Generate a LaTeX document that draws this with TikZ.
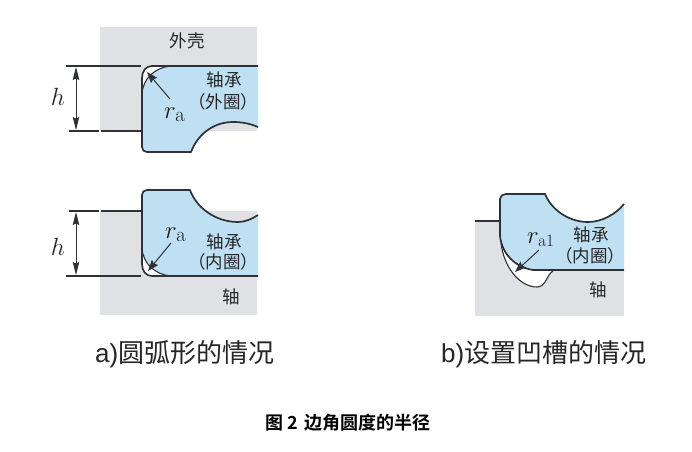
\documentclass[tikz,border=0pt]{standalone}
\usepackage[no-math]{fontspec}
\setmainfont{Liberation Sans}
\newfontfamily\cjk{Noto Sans CJK SC}
\newfontfamily\cjkb{Noto Sans CJK SC Bold}
\usetikzlibrary{arrows.meta}
\definecolor{brg}{HTML}{BEE0F2}
\definecolor{gry}{HTML}{E0E1E4}
\definecolor{ink}{HTML}{2E3136}
\tikzset{
  x=1pt,y=-1pt,
  outl/.style={draw=ink,line width=1.7pt,line join=round},
  thinln/.style={draw=ink,line width=1.1pt},
  dimline/.style={draw=ink,line width=1.2pt},
  dimarrow/.style={draw=ink,line width=1pt,{Stealth[length=13pt,width=6.5pt,inset=1.5pt]}-{Stealth[length=13pt,width=6.5pt,inset=1.5pt]}},
  leader/.style={draw=ink,line width=1pt,-{Stealth[length=11pt,width=8pt,inset=1.5pt]}},
  lbl/.style={font=\cjk\fontsize{17.5}{20}\selectfont,text=black!85,inner sep=0pt},
  sym/.style={font=\fontsize{28}{30}\selectfont,text=black!85,inner sep=0pt},
  rsym/.style={font=\fontsize{30}{32}\selectfont,text=black!90,inner sep=0pt,anchor=base west},
  captxt/.style={font=\fontsize{26}{29}\selectfont,text=black!85,inner sep=0pt,anchor=base west},
}
\begin{document}
\begin{tikzpicture}
\useasboundingbox (0,0) rectangle (692,451);
\fill[white] (0,0) rectangle (692,451);
% --- a) upper: housing
\fill[gry] (100,27) rectangle (257,131);
\fill[white] (142,92) -- (142,78) .. controls (142,71) and (146,66) .. (152,66) -- (170,66) -- cycle;
\fill[brg] (258,66) -- (170,66) .. controls (155,68) and (143,78) .. (142,94) -- (142,147)
  .. controls (142,150) and (144,152) .. (147,152) -- (191,152)
  .. controls (197,136) and (212,122) .. (233,122) .. controls (243,122) and (251,124) .. (258,127) -- cycle;
\draw[thinln] (170,66) .. controls (155,68) and (143,78) .. (142,94);
\draw[outl] (142,94) -- (142,147) .. controls (142,150) and (144,152) .. (147,152) -- (191,152)
  .. controls (197,136) and (212,122) .. (233,122) .. controls (243,122) and (251,124) .. (258,127);
\draw[outl] (142,96) -- (142,78) .. controls (142,71) and (146,66) .. (152,66) -- (258,66);
\coordinate (h1a) at (66,66); \coordinate (h1b) at (141,66);
\coordinate (h2a) at (69,131); \coordinate (h2b) at (99,131);
\coordinate (h2c) at (101,131); \coordinate (h2d) at (141,131);
\draw[dimline] (h1a) -- (h1b);
\draw[dimline] (h2a) -- (h2b);
\draw[dimline] (h2c) -- (h2d);
\coordinate (d1a) at (76,67); \coordinate (d1b) at (76,130);
\draw[dimarrow] (d1a) -- (d1b);
\node[sym] (h1) at (58,97) {$h$};
\node[rsym] (ra1) at (164,118) {$r_{\mathrm{a}}$};
\coordinate (t1) at (147,72); \coordinate (s1) at (170,99);
\draw[leader] (s1) -- (t1);
\node[lbl] (house) at (187,41) {外壳};
\node[lbl] (b1) at (224,80) {轴承};
\node[lbl] (b2) at (223,102) {（外圈）};
% --- a) lower: shaft
\fill[gry] (100,211) rectangle (257,315);
\fill[white] (142,250) -- (142,264) .. controls (142,271) and (146,276) .. (152,276) -- (170,276) -- cycle;
\fill[brg] (258,276) -- (170,276) .. controls (155,274) and (143,264) .. (142,248) -- (142,195)
  .. controls (142,192) and (144,190) .. (147,190) -- (190,190)
  .. controls (196,207) and (215,222) .. (238,222) .. controls (245,222) and (252,219) .. (258,215) -- cycle;
\draw[thinln] (170,276) .. controls (155,274) and (143,264) .. (142,248);
\draw[outl] (142,250) -- (142,195) .. controls (142,192) and (144,190) .. (147,190) -- (190,190)
  .. controls (196,207) and (215,222) .. (238,222) .. controls (245,222) and (252,219) .. (258,215);
\draw[outl] (142,248) -- (142,264) .. controls (142,271) and (146,276) .. (152,276) -- (258,276);
\coordinate (h3a) at (69,211); \coordinate (h3b) at (99,211);
\coordinate (h3c) at (101,211); \coordinate (h3d) at (141,211);
\coordinate (h4a) at (66,276); \coordinate (h4b) at (141,276);
\draw[dimline] (h3a) -- (h3b);
\draw[dimline] (h3c) -- (h3d);
\draw[dimline] (h4a) -- (h4b);
\coordinate (d2a) at (76,212); \coordinate (d2b) at (76,275);
\draw[dimarrow] (d2a) -- (d2b);
\node[sym] (h2) at (58,247) {$h$};
\node[rsym] (ra2) at (165,238) {$r_{\mathrm{a}}$};
\coordinate (t2) at (148,271); \coordinate (s2) at (171,243);
\draw[leader] (s2) -- (t2);
\node[lbl] (b3) at (224,242) {轴承};
\node[lbl] (b4) at (223,262) {（内圈）};
\node[lbl] (sh1) at (231,297) {轴};
% --- b) groove
\fill[gry] (475,221) rectangle (624,316);
\fill[white] (501,243) .. controls (504,268) and (520,287) .. (537,287)
  .. controls (546,287) and (547,274) .. (553,271) -- (530,270) -- cycle;
\fill[brg] (624,270) -- (533,270) .. controls (515,267) and (502,254) .. (500,236) -- (500,199)
  .. controls (500,196) and (503,194) .. (506,194) -- (545,194)
  .. controls (551,209) and (568,222) .. (588,222) .. controls (602,222) and (616,214) .. (624,204) -- cycle;
\draw[thinln] (501,243) .. controls (504,268) and (520,287) .. (537,287)
  .. controls (546,287) and (547,274) .. (553,271);
\draw[outl] (500,236) .. controls (502,254) and (515,267) .. (533,270) -- (624,270);
\draw[outl] (500,236) -- (500,199) .. controls (500,196) and (503,194) .. (506,194) -- (545,194)
  .. controls (551,209) and (568,222) .. (588,222) .. controls (602,222) and (616,214) .. (624,204);
\coordinate (g1) at (475,221); \coordinate (g2) at (499,221);
\draw[dimline] (g1) -- (g2);
\coordinate (t3) at (515,272); \coordinate (s3) at (539,250);
\draw[leader] (s3) -- (t3);
\node[rsym,font=\fontsize{24}{26}\selectfont] (ra3) at (527,243) {$r_{\mathrm{a1}}$};
\node[lbl] (b5) at (591,235) {轴承};
\node[lbl] (b6) at (590,256) {（内圈）};
\node[lbl] (sh2) at (598,290) {轴};
% --- captions
\node[captxt] (ca) at (95,362.5) {a)\hspace{0pt}{\cjk 圆弧形的情况}};
\node[captxt] (cb) at (441,362.5) {b)\hspace{0pt}{\cjk 设置凹槽的情况}};
\node[inner sep=0pt,anchor=base west,font=\cjkb\fontsize{18}{20}\selectfont,text=black] (fig) at (265,429.5) {图 2\hspace{7pt}边角圆度的半径};
\end{tikzpicture}
\end{document}
